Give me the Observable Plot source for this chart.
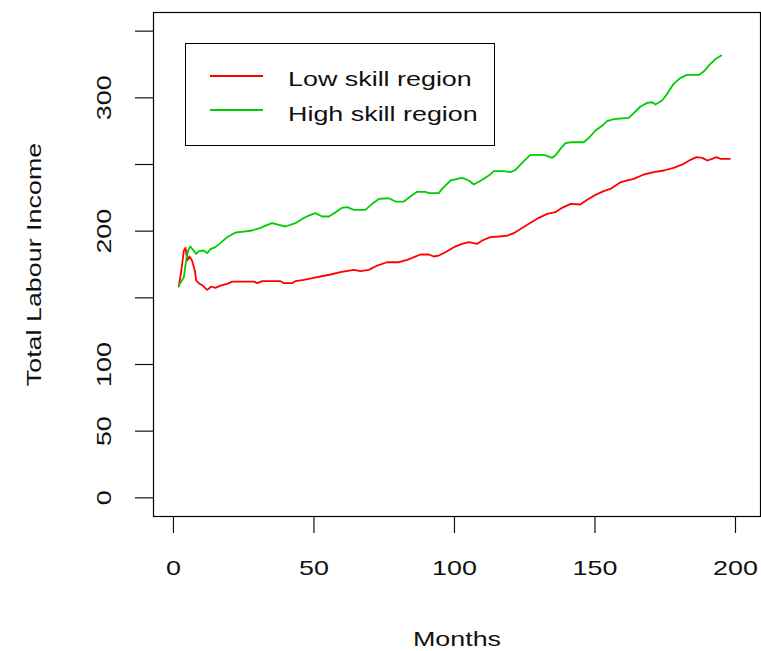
<!DOCTYPE html>
<html>
<head>
<meta charset="utf-8">
<script src="https://cdn.jsdelivr.net/npm/d3@7"></script>
<script src="https://cdn.jsdelivr.net/npm/@observablehq/plot@0.6"></script>
<style>
  html, body { margin: 0; padding: 0; background: #fff; }
  #wrap { position: relative; width: 761px; height: 651px; font-family: "Liberation Sans", Arial, sans-serif; }
  #legend { position: absolute; left: 185px; top: 43px; width: 310px; height: 103px; box-sizing: border-box; border: 1.2px solid #000; background: #fff; }
  #legend .sw { position: absolute; left: 24px; width: 53px; height: 2px; }
  #legend .lt { position: absolute; left: 102px; font-size: 21px; line-height: 21px; white-space: nowrap; transform: scaleX(1.28); transform-origin: left center; color: #111; }
</style>
</head>
<body>
<div id="wrap"></div>
<script>
// ---- data ----
const lowMonths  = [1.9, 2.8, 3.7, 4.3, 4.9, 5.7, 6.6, 7.6, 8.1, 9.0, 10.4, 12.0, 13.5, 14.9, 16.7, 19.1, 20.9, 28.6, 29.8, 31.6, 38.1, 39.3, 42.2, 43.4, 46.4, 49.9, 52.3, 55.9, 59.4, 64.2, 66.5, 69.5, 72.5, 76.0, 80.2, 83.2, 87.9, 90.9, 92.6, 94.4, 96.8, 99.8, 102.7, 105.1, 108.1, 109.9, 112.7, 115.8, 118.8, 121.1, 123.5, 126.5, 130.0, 133.0, 135.9, 138.3, 141.3, 144.8, 147.2, 150.2, 153.1, 155.5, 159.1, 163.8, 167.4, 170.9, 174.5, 178.0, 181.6, 184.0, 186.1, 188.2, 190.0, 191.7, 193.2, 194.7, 198.0];
const lowValues  = [158.5, 170.5, 185.5, 187.5, 178, 181, 178, 170.5, 163, 161, 159.2, 156, 158.5, 157.5, 159.2, 160.5, 162.2, 162.2, 161, 162.5, 162.5, 161, 161, 162.5, 163.5, 165, 166, 167.5, 169.2, 171, 170, 171, 174.2, 176.7, 176.7, 178.5, 182.5, 182.5, 181, 181.7, 184.2, 188, 190.5, 191.7, 190.5, 193, 195.5, 196, 196.7, 198.5, 201.7, 205.5, 210, 213, 214.2, 217.5, 220.5, 220, 223.5, 227.2, 230, 231.7, 236.7, 239.2, 242.5, 244.2, 245.5, 247.5, 250.5, 253.5, 255.5, 255, 253, 254.2, 255.5, 254.2, 254.2];
const highMonths = [1.9, 3.7, 4.5, 5.2, 6.0, 7.2, 8.1, 9.0, 10.8, 12.0, 13.2, 14.9, 16.7, 19.1, 22.1, 25.0, 28.0, 31.0, 32.7, 35.1, 37.5, 39.9, 43.4, 45.8, 48.2, 50.5, 52.9, 55.3, 57.7, 60.0, 61.8, 64.2, 68.3, 70.7, 73.1, 76.6, 79.0, 82.0, 84.3, 86.7, 89.7, 90.9, 94.4, 95.6, 98.6, 101.0, 102.7, 105.1, 106.9, 109.9, 112.2, 114.0, 117.6, 119.9, 121.7, 124.7, 127.0, 131.8, 134.8, 135.9, 137.7, 139.5, 141.9, 146.0, 147.8, 150.2, 152.5, 154.3, 156.7, 162.0, 163.8, 166.2, 168.6, 170.4, 171.5, 173.9, 175.7, 178.0, 180.4, 182.8, 187.0, 188.7, 190.5, 192.9, 194.9];
const highValues = [159.2, 165.5, 178, 185.5, 188.5, 185.5, 183, 185, 185.5, 183.5, 186.5, 188, 191, 195.5, 199, 199.7, 200.5, 202.5, 204.2, 206, 204.7, 203.5, 206, 209.2, 211.7, 213.5, 211, 211, 214.2, 217.5, 218, 216, 216, 220.5, 224.2, 224.7, 222.2, 222.2, 226, 229.5, 229.5, 228.5, 228.5, 231.7, 238, 239.2, 240, 238, 235, 238.5, 241.7, 245, 245, 244.2, 246, 252.5, 257.2, 257.2, 255, 256.7, 261.7, 266, 266.7, 266.7, 270, 275.5, 279, 282.5, 284, 285, 288.5, 293.5, 296.2, 296.7, 295, 298, 303, 310.5, 315, 317.2, 317.2, 319.7, 324.2, 329.2, 331.7];
const xTicks = [0, 50, 100, 150, 200];
const yTicks = [0, 50, 100, 150, 200, 250, 300, 350];
const yLabels = [0, 50, 100, 200, 300];
const seriesNames = ["Low skill region", "High skill region"];
const seriesColors = ["#ff0000", "#00cd00"];
const xTitle = "Months";
const yTitle = "Total Labour Income";

const low = lowMonths.map((m, i) => ({month: m, value: lowValues[i]}));
const high = highMonths.map((m, i) => ({month: m, value: highValues[i]}));

const chart = Plot.plot({
  width: 761,
  height: 651,
  marginLeft: 153,
  marginRight: 1,
  marginTop: 12,
  marginBottom: 135,
  x: {domain: [-7.1, 208.9], label: null},
  y: {domain: [-14, 364], label: null},
  style: {fontFamily: "'Liberation Sans', Arial, sans-serif", fontSize: "21px", background: "#fff", color: "#111", overflow: "visible"},
  marks: [
    Plot.frame({stroke: "#000", strokeWidth: 1.2}),
    Plot.axisX({ticks: xTicks, tickSize: 17, tickPadding: 27, fontSize: 21, strokeWidth: 1.2, label: null}),
    Plot.axisY({ticks: yTicks, tickSize: 18, tickFormat: () => "", strokeWidth: 1.2, label: null}),
    Plot.text(yLabels, {frameAnchor: "left", y: d => d, text: d => String(d), rotate: -90, textAnchor: "middle", lineAnchor: "middle", dx: -49.5, fontSize: 21, fill: "#111"}),
    Plot.text([xTitle], {frameAnchor: "bottom", dy: 123, text: d => d, textAnchor: "middle", lineAnchor: "middle", fontSize: 21, fill: "#111"}),
    Plot.text([yTitle], {frameAnchor: "left", dx: -119, rotate: -90, text: d => d, textAnchor: "middle", lineAnchor: "middle", fontSize: 21, fill: "#111"}),
    Plot.line(low, {x: "month", y: "value", stroke: seriesColors[0], strokeWidth: 1.8}),
    Plot.line(high, {x: "month", y: "value", stroke: seriesColors[1], strokeWidth: 1.8})
  ]
});

const wrap = document.getElementById("wrap");
wrap.appendChild(chart);

// widen glyphs along the reading direction to match the reference's wide sans text
const STRETCH = 1.28;
chart.querySelectorAll("text").forEach(t => {
  if (!t.textContent) return;
  const tr = t.getAttribute("transform");
  if (tr) {
    t.setAttribute("transform", tr + ` scale(${STRETCH},1)`);
  } else {
    const x = +(t.getAttribute("x") || 0);
    const y = +(t.getAttribute("y") || 0);
    t.removeAttribute("x");
    t.removeAttribute("y");
    t.setAttribute("transform", `translate(${x},${y}) scale(${STRETCH},1)`);
  }
});

// legend
const legend = document.createElement("div");
legend.id = "legend";
const swTops = [30.5, 64.8];
const txtTops = [23.5, 58.5];
seriesNames.forEach((name, i) => {
  const sw = document.createElement("div");
  sw.className = "sw";
  sw.style.top = swTops[i] + "px";
  sw.style.background = seriesColors[i];
  legend.appendChild(sw);
  const lt = document.createElement("div");
  lt.className = "lt";
  lt.style.top = txtTops[i] + "px";
  lt.textContent = name;
  legend.appendChild(lt);
});
wrap.appendChild(legend);
</script>
</body>
</html>
